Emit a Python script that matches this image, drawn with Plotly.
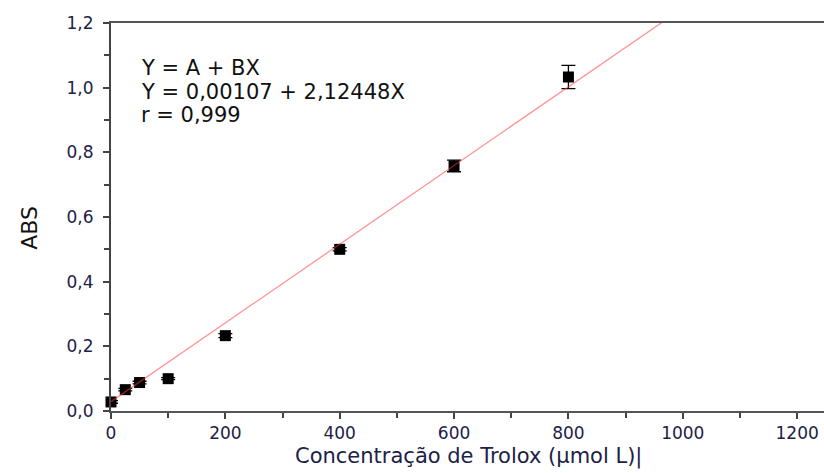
import plotly.graph_objects as go

# Data
conc = [0, 25, 50, 100, 200, 400, 600, 800]
abs_vals = [0.028, 0.066, 0.088, 0.100, 0.233, 0.500, 0.758, 1.033]
abs_err = [0.004, 0.004, 0.004, 0.003, 0.006, 0.005, 0.018, 0.036]

# Drawn regression line (visual fit)
fit_intercept = 0.029
fit_slope = 0.001217
fit_x = [0, 1200]
fit_y = [fit_intercept + fit_slope * x for x in fit_x]

eq_lines = ["Y = A + BX", "Y = 0,00107 + 2,12448X", "r = 0,999"]
eq_ypos = [0.884, 0.822, 0.763]

x_ticks = [0, 200, 400, 600, 800, 1000, 1200]
x_title = "Concentração de Trolox (µmol L)|"
y_title = "ABS"

font = "DejaVu Sans, Liberation Sans, sans-serif"
tick_color = "#1c2147"

fig = go.Figure()
fig.add_trace(go.Scatter(
    x=conc, y=abs_vals, mode="markers",
    marker=dict(symbol="square", size=11, color="black"),
    error_y=dict(type="data", array=abs_err, color="black", thickness=1.3, width=7),
    showlegend=False, cliponaxis=False,
))
fig.add_trace(go.Scatter(
    x=fit_x, y=fit_y, mode="lines",
    line=dict(color="rgba(255,60,60,0.55)", width=1.3),
    showlegend=False,
))

for txt, yp in zip(eq_lines, eq_ypos):
    fig.add_annotation(
        x=0.039, xref="paper", y=yp, yref="paper",
        text=txt, showarrow=False, align="left",
        xanchor="left", yanchor="middle",
        font=dict(family=font, size=21, color="#111111"),
    )

fig.add_annotation(
    x=0.502, xref="paper", y=-0.153, yref="paper",
    text=x_title, showarrow=False, xanchor="center", yanchor="bottom",
    borderpad=0,
    font=dict(family=font, size=21, color=tick_color),
)
fig.add_annotation(
    x=-0.1136, xref="paper", y=0.472, yref="paper",
    text=y_title, showarrow=False, xanchor="center", yanchor="middle",
    textangle=-90,
    font=dict(family=font, size=22, color="#111"),
)

fig.update_layout(
    width=824, height=473,
    margin=dict(l=111, r=0, t=23, b=62),
    paper_bgcolor="white", plot_bgcolor="white",
    separators=",.",
    font=dict(family=font, color=tick_color),
    xaxis=dict(
        range=[0, 1247], tickvals=x_ticks,
        ticks="outside", ticklen=6, tickwidth=1.5, tickcolor="#444",
        minor=dict(dtick=100, tick0=0, ticks="outside", ticklen=5, tickwidth=1.5, tickcolor="#444"),
        showline=True, linecolor="#555", linewidth=2, mirror=True,
        showgrid=False, zeroline=False,
        tickfont=dict(size=17, color=tick_color),
    ),
    yaxis=dict(
        range=[0, 1.2], dtick=0.2, tick0=0, tickformat=".1f",
        ticks="outside", ticklen=6, tickwidth=1.5, tickcolor="#444",
        minor=dict(dtick=0.1, tick0=0, ticks="outside", ticklen=5, tickwidth=1.5, tickcolor="#444"),
        showline=True, linecolor="#444", linewidth=2,
        showgrid=False, zeroline=False,
        tickfont=dict(size=17, color=tick_color),
        ticklabelstandoff=6,
    ),
)

fig.write_html("out.html")
